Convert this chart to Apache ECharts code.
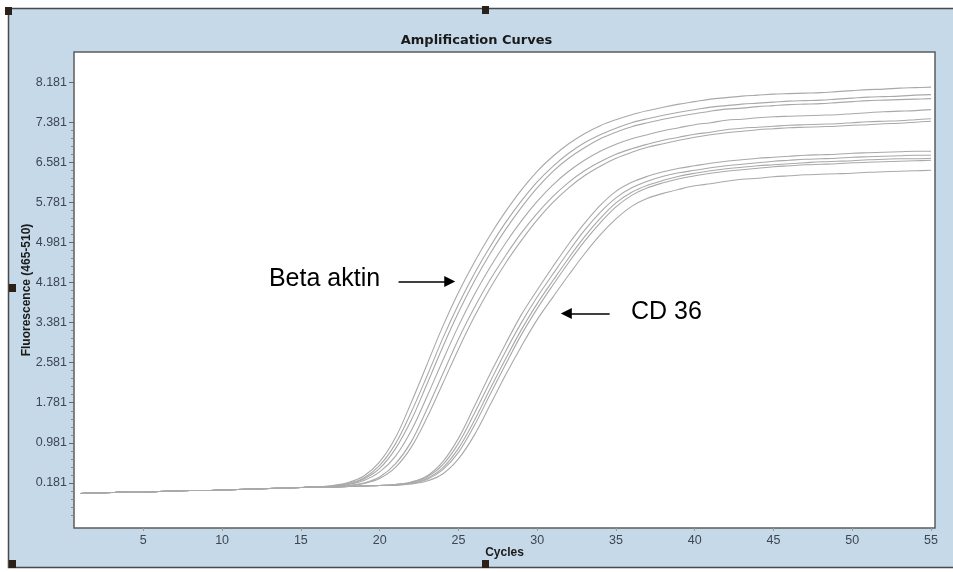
<!DOCTYPE html>
<html><head><meta charset="utf-8">
<script src="https://cdn.jsdelivr.net/npm/echarts@6/dist/echarts.min.js"></script>
<style>html,body{margin:0;padding:0;background:#fff}#c{width:953px;height:572px}</style>
</head><body><div id="c"></div>
<script>
// ---------- data ----------
const cycles = [1,2,3,4,5,6,7,8,9,10,11,12,13,14,15,16,17,18,19,20,21,22,23,24,25,26,27,28,29,30,31,32,33,34,35,36,37,38,39,40,41,42,43,44,45,46,47,48,49,50,51,52,53,54,55];
const yTickValues = [0.181,0.981,1.781,2.581,3.381,4.181,4.981,5.781,6.581,7.381,8.181];
const xTickValues = [5,10,15,20,25,30,35,40,45,50,55];

const betaAktin1 = [-0.03,-0.02,-0.01,0.00,0.00,0.01,0.02,0.03,0.03,0.04,0.05,0.06,0.07,0.08,0.09,0.10,0.13,0.19,0.32,0.60,1.08,1.78,2.54,3.30,3.98,4.58,5.12,5.60,6.03,6.40,6.70,6.95,7.15,7.31,7.43,7.53,7.61,7.68,7.74,7.79,7.84,7.87,7.90,7.92,7.94,7.95,7.96,7.97,7.99,8.01,8.03,8.04,8.06,8.07,8.08];
const betaAktin2 = [-0.03,-0.02,-0.01,0.00,0.00,0.01,0.02,0.03,0.03,0.04,0.05,0.06,0.07,0.08,0.09,0.10,0.12,0.17,0.28,0.53,0.96,1.59,2.31,3.06,3.74,4.35,4.89,5.38,5.81,6.19,6.50,6.76,6.97,7.13,7.26,7.37,7.45,7.52,7.58,7.63,7.68,7.71,7.74,7.76,7.78,7.80,7.81,7.82,7.84,7.86,7.88,7.89,7.90,7.92,7.93];
const betaAktin3 = [-0.03,-0.02,-0.01,0.00,0.00,0.01,0.02,0.03,0.03,0.04,0.05,0.06,0.07,0.08,0.09,0.10,0.11,0.16,0.26,0.47,0.86,1.43,2.15,2.89,3.58,4.20,4.75,5.24,5.68,6.07,6.40,6.66,6.87,7.05,7.18,7.29,7.37,7.44,7.50,7.55,7.60,7.64,7.66,7.69,7.71,7.73,7.74,7.75,7.77,7.79,7.81,7.82,7.83,7.84,7.85];
const betaAktin4 = [-0.03,-0.02,-0.01,0.00,0.00,0.01,0.02,0.03,0.03,0.04,0.05,0.06,0.07,0.08,0.09,0.10,0.11,0.15,0.23,0.40,0.71,1.22,1.90,2.62,3.31,3.93,4.48,4.97,5.41,5.80,6.13,6.40,6.62,6.80,6.94,7.05,7.13,7.21,7.27,7.33,7.37,7.42,7.44,7.47,7.49,7.50,7.51,7.52,7.53,7.55,7.57,7.59,7.60,7.61,7.63];
const betaAktin5 = [-0.03,-0.02,-0.01,0.00,0.00,0.01,0.02,0.03,0.03,0.04,0.05,0.06,0.07,0.08,0.09,0.10,0.10,0.13,0.18,0.30,0.56,1.00,1.65,2.35,3.05,3.67,4.23,4.72,5.17,5.56,5.90,6.18,6.41,6.59,6.74,6.85,6.94,7.02,7.08,7.14,7.18,7.23,7.26,7.28,7.30,7.32,7.33,7.34,7.35,7.37,7.39,7.40,7.41,7.43,7.45];
const betaAktin6 = [-0.03,-0.02,-0.01,0.00,0.00,0.01,0.02,0.03,0.03,0.04,0.05,0.06,0.07,0.08,0.09,0.10,0.10,0.12,0.17,0.27,0.49,0.89,1.48,2.16,2.85,3.49,4.06,4.57,5.02,5.43,5.78,6.07,6.31,6.50,6.66,6.78,6.88,6.95,7.02,7.08,7.13,7.17,7.20,7.23,7.25,7.27,7.28,7.29,7.30,7.32,7.33,7.35,7.36,7.38,7.40];

const cd36_1 = [-0.03,-0.02,-0.01,0.00,0.00,0.01,0.02,0.03,0.03,0.04,0.05,0.06,0.07,0.08,0.09,0.10,0.10,0.11,0.12,0.13,0.15,0.20,0.32,0.60,1.07,1.70,2.35,2.96,3.54,4.03,4.50,4.95,5.36,5.72,6.00,6.18,6.30,6.39,6.46,6.51,6.56,6.60,6.63,6.66,6.68,6.70,6.72,6.73,6.74,6.76,6.77,6.78,6.79,6.80,6.80];
const cd36_2 = [-0.03,-0.02,-0.01,0.00,0.00,0.01,0.02,0.03,0.03,0.04,0.05,0.06,0.07,0.08,0.09,0.10,0.10,0.11,0.12,0.13,0.15,0.19,0.30,0.54,0.97,1.56,2.19,2.81,3.38,3.89,4.35,4.80,5.22,5.58,5.87,6.07,6.20,6.30,6.37,6.42,6.47,6.51,6.54,6.57,6.60,6.62,6.64,6.65,6.66,6.68,6.69,6.70,6.71,6.72,6.72];
const cd36_3 = [-0.03,-0.02,-0.01,0.00,0.00,0.01,0.02,0.03,0.03,0.04,0.05,0.06,0.07,0.08,0.09,0.10,0.10,0.11,0.12,0.13,0.14,0.18,0.27,0.48,0.87,1.42,2.05,2.66,3.24,3.76,4.22,4.67,5.09,5.46,5.77,5.98,6.12,6.22,6.30,6.36,6.41,6.45,6.48,6.51,6.53,6.55,6.57,6.59,6.60,6.61,6.63,6.64,6.65,6.65,6.66];
const cd36_4 = [-0.03,-0.02,-0.01,0.00,0.00,0.01,0.02,0.03,0.03,0.04,0.05,0.06,0.07,0.08,0.09,0.10,0.10,0.11,0.12,0.13,0.14,0.17,0.25,0.44,0.79,1.32,1.94,2.55,3.14,3.66,4.13,4.58,5.00,5.37,5.69,5.92,6.07,6.17,6.25,6.31,6.36,6.40,6.43,6.46,6.49,6.51,6.53,6.54,6.55,6.57,6.58,6.59,6.60,6.61,6.62];
const cd36_5 = [-0.03,-0.02,-0.01,0.00,0.00,0.01,0.02,0.03,0.03,0.04,0.05,0.06,0.07,0.08,0.09,0.10,0.10,0.11,0.12,0.13,0.13,0.16,0.22,0.36,0.66,1.13,1.73,2.34,2.91,3.44,3.89,4.33,4.75,5.13,5.45,5.70,5.86,5.96,6.04,6.11,6.15,6.20,6.24,6.26,6.29,6.31,6.33,6.34,6.35,6.36,6.38,6.39,6.40,6.41,6.42];

const curves = [betaAktin1,betaAktin2,betaAktin3,betaAktin4,betaAktin5,betaAktin6,cd36_1,cd36_2,cd36_3,cd36_4,cd36_5];

// annotation anchors in data units [cycle, fluorescence]
const betaLabelAt = [16.5, 4.24];
const betaArrow = [[21.2, 4.2], [24.45, 4.2]];
const cdLabelAt = [38.2, 3.58];
const cdArrow = [[34.6, 3.56], [31.85, 3.56]];

// ---------- chart ----------
const yMinor = [];
for (let i = -4; i <= 45; i++) {
  const v = +(0.181 + i * 0.16).toFixed(3);
  if (v > -0.72 && v < 8.78 && i % 5 !== 0) yMinor.push(v);
}
const tickFont = 'Arial, "Liberation Sans", sans-serif';
const labelColor = '#3d4652';
const chart = echarts.init(document.getElementById('c'), null, {renderer: 'canvas'});

const series = curves.map((arr, k) => ({
  type: 'line',
  name: 's' + k,
  data: cycles.map((c, i) => [c, arr[i]]),
  showSymbol: false,
  smooth: 0.35,
  silent: true,
  lineStyle: {color: '#a9a9a9', width: 1.1},
  z: 3
}));

series[0].markLine = {
  silent: true, symbol: ['none', 'triangle'], symbolSize: 11,
  lineStyle: {color: '#000', width: 1.6, type: 'solid'},
  itemStyle: {color: '#000'},
  label: {show: false},
  data: [[{coord: betaArrow[0]}, {coord: betaArrow[1]}], [{coord: cdArrow[0]}, {coord: cdArrow[1]}]]
};
series[0].markPoint = {
  silent: true, symbol: 'rect', symbolSize: 1,
  itemStyle: {color: 'rgba(0,0,0,0)'},
  label: {show: true, position: 'inside', color: '#000', fontSize: 25, fontFamily: 'Arial, "Liberation Sans", sans-serif', formatter: p => p.name},
  data: [{name: 'Beta aktin', coord: betaLabelAt}, {name: 'CD 36', coord: cdLabelAt}]
};

const option = {
  animation: false,
  backgroundColor: '#ffffff',
  graphic: [
    {type: 'rect', z: -10, shape: {x: 8.5, y: 8.5, width: 960, height: 559}, style: {fill: '#c6d9e8', stroke: '#4a4a4a', lineWidth: 1.5}},
    {type: 'rect', z: 100, shape: {x: 5, y: 7, width: 7, height: 8}, style: {fill: '#2b2119'}},
    {type: 'rect', z: 100, shape: {x: 482, y: 6, width: 7, height: 8}, style: {fill: '#2b2119'}},
    {type: 'rect', z: 100, shape: {x: 9, y: 284, width: 7, height: 8}, style: {fill: '#2b2119'}},
    {type: 'rect', z: 100, shape: {x: 9, y: 560, width: 7, height: 8}, style: {fill: '#2b2119'}},
    {type: 'rect', z: 100, shape: {x: 482, y: 560, width: 7, height: 8}, style: {fill: '#2b2119'}}
  ],
  title: {
    text: 'Amplification Curves', left: 'center', top: 29,
    textStyle: {fontSize: 13, fontWeight: 'bold', color: '#1a1a1a', fontFamily: '"DejaVu Sans", Arial, sans-serif'}
  },
  grid: {left: 74, right: 18, top: 52, bottom: 44, show: true, backgroundColor: '#ffffff', borderColor: '#5c5c5c', borderWidth: 1.5},
  xAxis: {
    type: 'value', min: 0.6, max: 55.25,
    name: 'Cycles', nameLocation: 'middle', nameGap: 19, nameMoveOverlap: false,
    nameTextStyle: {fontSize: 12, fontWeight: 'bold', color: '#1a1a1a', fontFamily: 'Arial, sans-serif'},
    axisLine: {show: false, onZero: false},
    splitLine: {show: false},
    axisTick: {show: true, customValues: xTickValues, length: 3, lineStyle: {color: '#999'}},
    axisLabel: {customValues: xTickValues, margin: 6, fontSize: 12.5, color: labelColor, fontFamily: tickFont}
  },
  yAxis: [{
    type: 'value', min: -0.719, max: 8.781,
    name: 'Fluorescence (465-510)', nameLocation: 'middle', nameGap: 41, nameRotate: 90, nameMoveOverlap: false,
    nameTextStyle: {fontSize: 12, fontWeight: 'bold', color: '#1a1a1a', fontFamily: 'Arial, sans-serif'},
    axisLine: {show: false, onZero: false},
    splitLine: {show: false},
    axisTick: {show: true, customValues: yTickValues, length: 5, lineStyle: {color: '#666'}},
    axisLabel: {customValues: yTickValues, margin: 7, fontSize: 12.5, color: labelColor, fontFamily: tickFont, formatter: v => Number(v).toFixed(3)}
  }, {
    type: 'value', min: -0.719, max: 8.781, position: 'left',
    axisLine: {show: false, onZero: false}, splitLine: {show: false},
    axisTick: {show: true, customValues: yMinor, length: 3, lineStyle: {color: '#888'}},
    axisLabel: {show: false}
  }],
  series: series
};
chart.setOption(option);
</script>
</body></html>
